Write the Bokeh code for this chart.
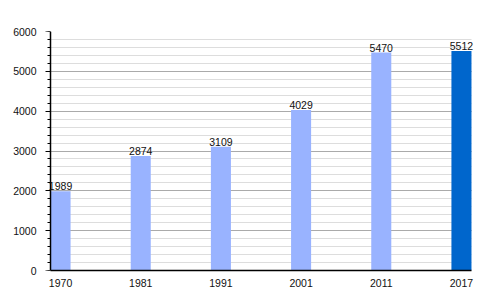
from bokeh.plotting import figure
from bokeh.models import ColumnDataSource, FixedTicker, Range1d, Label, LinearAxis
from bokeh.embed import file_html
from bokeh.resources import INLINE

years = ["1970", "1981", "1991", "2001", "2011", "2017"]
population = [1989, 2874, 3109, 4029, 5470, 5512]
colors = ["#99b3ff", "#99b3ff", "#99b3ff", "#99b3ff", "#99b3ff", "#0066cc"]
y_ticks = [0, 1000, 2000, 3000, 4000, 5000, 6000]
y_minor = list(range(0, 6001, 200))

bar_w = 0.25
pad = 0.15
idx = list(range(len(years)))
x_end = len(years) - 1 + bar_w
src = ColumnDataSource(dict(
    left=[i for i in idx],
    right=[i + bar_w for i in idx],
    top=population,
    color=colors,
))

p = figure(width=500, height=300, output_backend="svg", toolbar_location=None,
           x_range=Range1d(-pad, x_end + pad), y_range=Range1d(0, 6000),
           min_border_left=38, min_border_right=17, min_border_top=31, min_border_bottom=30)
p.outline_line_color = None
p.background_fill_color = "white"
p.border_fill_color = "white"

p.quad(left="left", right="right", bottom=0, top="top", source=src,
       fill_color="color", line_color=None)

for i, v in zip(idx, population):
    p.add_layout(Label(x=i + bar_w / 2, y=v, text=str(v), text_align="center",
                       text_baseline="bottom", y_offset=1, text_font_size="10.5px",
                       text_font="Liberation Sans", text_color="#111111",
                       level="overlay"))

p.xaxis.ticker = FixedTicker(ticks=[i + bar_w / 2 for i in idx])
p.xaxis.major_label_overrides = {i + bar_w / 2: y for i, y in zip(idx, years)}
p.xaxis.bounds = (0, x_end)
p.xaxis.major_tick_line_color = None
p.xaxis.minor_tick_line_color = None
p.xaxis.axis_line_color = "black"
p.xaxis.axis_line_width = 1.5
p.xaxis.major_label_text_font = "Liberation Sans"
p.xaxis.major_label_text_font_size = "10.5px"
p.xaxis.major_label_text_color = "#111111"
p.xaxis.major_label_standoff = 2

# labels-only axis in the side panel (also feeds the grid)
p.yaxis.ticker = FixedTicker(ticks=y_ticks, minor_ticks=y_minor)
p.yaxis.axis_line_color = None
p.yaxis.major_tick_line_color = None
p.yaxis.minor_tick_line_color = None
p.yaxis.major_tick_out = 0
p.yaxis.major_tick_in = 0
p.yaxis.minor_tick_out = 0
p.yaxis.minor_tick_in = 0
p.yaxis.major_label_text_font = "Liberation Sans"
p.yaxis.major_label_text_font_size = "10.5px"
p.yaxis.major_label_text_color = "#111111"
p.yaxis.major_label_standoff = 2

# line + ticks axis drawn at x = 0
ax = LinearAxis(fixed_location=0, ticker=FixedTicker(ticks=y_ticks, minor_ticks=y_minor),
                axis_line_color="black", axis_line_width=1.5,
                major_tick_out=5, major_tick_in=0, minor_tick_out=3, minor_tick_in=0,
                major_label_text_color=None, major_label_text_font_size="1px",
                major_label_standoff=0)
p.add_layout(ax, "left")

p.xgrid.grid_line_color = None
p.ygrid.grid_line_color = "#aaaaaa"
p.ygrid.grid_line_width = 1
p.ygrid.minor_grid_line_color = "#dddddd"
p.ygrid.cross_bounds = (0, x_end)
p.ygrid.level = "underlay"

open("out.html", "w").write(file_html(p, INLINE))
